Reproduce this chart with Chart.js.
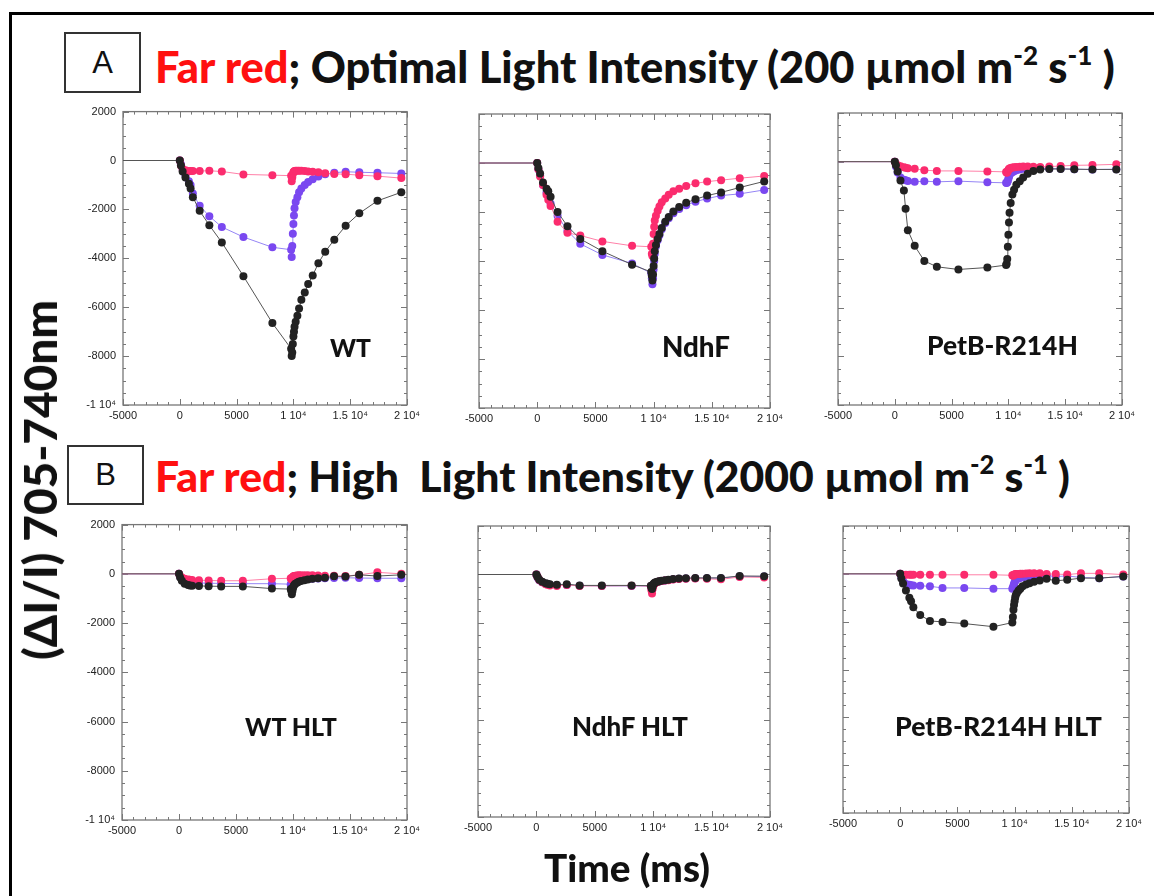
<!DOCTYPE html>
<html>
<head>
<meta charset="utf-8">
<script src="https://cdn.jsdelivr.net/npm/chart.js@4.4.1/dist/chart.umd.min.js"></script>
<style>
  body { margin: 0; background: #fff; }
  #page { position: relative; width: 1154px; height: 896px; overflow: hidden; font-family: Lato, "Noto Sans", sans-serif; }
  .frame { position: absolute; left: 9px; top: 12px; width: 1170px; height: 900px; border-top: 3px solid #000; border-left: 3px solid #000; }
  canvas { position: absolute; }
  .txt { position: absolute; white-space: nowrap; font-weight: 900; line-height: 1; color: #111; }
  .box { position: absolute; border: 2px solid #333; box-sizing: border-box; font-family: "Liberation Sans", Arial, sans-serif; font-size: 31px; text-align: center; color: #111; }
  .red { color: #ff1010; }
  sup { font-size: 0.6em; vertical-align: 0.7em; line-height: 0; }
</style>
</head>
<body>
<div id="page">
  <div class="frame"></div>
  <div class="box" style="left:64px;top:32px;width:77px;height:61px;line-height:57px;">A</div>
  <div class="box" style="left:67px;top:445px;width:77px;height:60px;line-height:56px;">B</div>
</div>
<script>
// time axis shared by all six panels (ms)
const timeMs = [-5000, 0, 100, 250, 500, 800, 950, 1150, 1750, 2600, 3700, 5600, 8150, 9800, 9850, 9900, 9950, 10000,
  10050, 10100, 10200, 10350, 10500, 10700, 11000, 11300, 11700, 12200, 12800, 13600, 14600, 15800, 17400, 19500];

const xTickLabels = ["-5000", "0", "5000", "1 10\u2074", "1.5 10\u2074", "2 10\u2074"];
const yTickLabels = ["-1 10\u2074", "-8000", "-6000", "-4000", "-2000", "0", "2000"];

// A - optimal light
const wtBlack = [0, 0, -200, -450, -700, -950, -1150, -1500, -2060, -2650, -3350, -4730, -6650, -7700, -8000, -7850, -7500, -7200,
  -7000, -6800, -6600, -6350, -6050, -5700, -5400, -5050, -4700, -4200, -3730, -3240, -2670, -2160, -1650, -1300];
const wtPurple = [0, 0, -150, -350, -600, -850, -1000, -1350, -1850, -2280, -2720, -3130, -3550, -3650, -3950, -3500, -3000, -2600,
  -2250, -1950, -1700, -1500, -1300, -1150, -1000, -880, -770, -650, -560, -500, -460, -480, -500, -530];
const wtPink = [0, 0, -200, -350, -400, -430, -430, -430, -430, -420, -450, -570, -600, -620, -850, -700, -550, -480,
  -450, -430, -420, -420, -420, -420, -430, -450, -460, -480, -520, -550, -560, -600, -640, -720];

const ndhfBlack = [0, 0, -200, -430, -800, -1050, -1150, -1380, -2000, -2580, -3100, -3600, -4150, -4450, -4600, -4800, -4550, -4200,
  -3900, -3600, -3350, -3100, -2900, -2650, -2400, -2200, -1980, -1800, -1620, -1480, -1330, -1200, -1000, -750];
const ndhfPurple = [0, 0, -250, -500, -900, -1200, -1300, -1650, -2150, -2770, -3300, -3750, -4100, -4500, -4700, -4950, -4700, -4350,
  -4000, -3700, -3400, -3150, -2950, -2700, -2450, -2250, -2050, -1880, -1720, -1580, -1450, -1330, -1260, -1100];
const ndhfPink = [0, 0, -250, -550, -900, -1300, -1500, -1750, -2400, -2850, -2960, -3200, -3380, -3420, -3700, -3800, -3300, -2900,
  -2600, -2350, -2150, -1950, -1780, -1600, -1450, -1300, -1150, -1050, -940, -830, -760, -700, -620, -530];

const petbBlack = [0, 0, -150, -400, -770, -1180, -1930, -2820, -3460, -4080, -4320, -4430, -4350, -4250, -4200, -4000, -3500, -3000,
  -2500, -2100, -1700, -1350, -1150, -950, -800, -650, -500, -380, -320, -300, -300, -310, -320, -320];
const petbPurple = [0, 0, -200, -450, -650, -740, -760, -790, -830, -800, -830, -800, -850, -870, -880, -850, -780, -700,
  -620, -550, -480, -430, -390, -350, -320, -290, -270, -260, -270, -290, -290, -310, -320, -310];
const petbPink = [0, 0, -120, -150, -190, -230, -250, -270, -290, -350, -380, -380, -400, -420, -460, -430, -380, -340,
  -300, -280, -260, -240, -230, -220, -210, -200, -200, -210, -220, -200, -180, -150, -140, -110];

// B - high light
const wtHltBlack = [0, 0, -150, -280, -400, -450, -470, -480, -490, -500, -510, -510, -600, -620, -700, -830, -700, -580,
  -500, -450, -400, -360, -320, -290, -260, -230, -200, -180, -160, -100, -110, -40, -90, -40];
const wtHltPurple = [0, 0, -120, -220, -300, -340, -350, -360, -370, -380, -390, -400, -400, -420, -480, -450, -400, -350,
  -320, -300, -280, -260, -240, -230, -220, -210, -200, -190, -180, -170, -160, -170, -180, -180];
const wtHltPink = [0, 0, -100, -150, -200, -230, -240, -250, -260, -270, -280, -280, -200, -180, -220, -200, -150, -120,
  -100, -90, -80, -70, -60, -60, -60, -60, -60, -70, -80, -80, -90, -40, 60, 0];

const ndhfHltBlack = [0, 0, -100, -220, -300, -360, -380, -400, -420, -400, -450, -450, -450, -460, -550, -600, -500, -420,
  -380, -350, -320, -300, -280, -260, -240, -220, -190, -170, -150, -140, -140, -140, -60, -70];
const ndhfHltPurple = [0, 0, -120, -240, -320, -380, -400, -420, -440, -430, -460, -470, -470, -480, -560, -620, -520, -440,
  -400, -370, -340, -310, -290, -270, -250, -230, -200, -180, -160, -150, -150, -150, -80, -80];
const ndhfHltPink = [0, 0, -100, -230, -320, -400, -420, -450, -470, -430, -470, -470, -460, -480, -650, -780, -600, -480,
  -420, -380, -340, -310, -290, -270, -250, -240, -210, -190, -180, -170, -180, -200, -100, -120];

const petbHltBlack = [0, 0, -200, -400, -700, -1000, -1150, -1400, -1720, -1970, -2010, -2080, -2210, -2040, -1800, -1500, -1300, -1150,
  -1000, -900, -800, -700, -620, -520, -450, -390, -330, -280, -210, -290, -250, -180, -180, -110];
const petbHltPurple = [0, 0, -150, -300, -420, -460, -480, -490, -500, -520, -590, -590, -620, -620, -580, -500, -420, -350,
  -300, -260, -220, -190, -160, -140, -120, -100, -80, -70, -70, -110, -90, -150, -180, -110];
const petbHltPink = [0, 0, -30, -60, -40, -40, -40, -40, -40, -40, -40, -40, -40, -60, -80, -60, -40, -30,
  -20, -20, -10, -10, 0, 0, 10, 20, 20, 20, -10, -10, -30, 20, 20, -30];

// plot-area rectangles [left, top, right, bottom] and whether y labels show
const panels = [
  { rect: [123, 110, 407, 405], yLabels: true,  black: wtBlack, purple: wtPurple, pink: wtPink },
  { rect: [479, 114, 770, 408], yLabels: false, black: ndhfBlack, purple: ndhfPurple, pink: ndhfPink },
  { rect: [838, 113, 1122, 405], yLabels: false, black: petbBlack, purple: petbPurple, pink: petbPink },
  { rect: [122, 523, 407, 820], yLabels: true,  black: wtHltBlack, purple: wtHltPurple, pink: wtHltPink },
  { rect: [478, 526, 770, 817], yLabels: false, black: ndhfHltBlack, purple: ndhfHltPurple, pink: ndhfHltPink },
  { rect: [843, 526, 1129, 813], yLabels: false, black: petbHltBlack, purple: petbHltPurple, pink: petbHltPink }
];

const padL = 65, padR = 25, padT = 12, padB = 30;

// box around the plot with inward ticks on all sides
const frameTicks = {
  id: "frameTicks",
  beforeDatasetsDraw(chart) {
    const ctx = chart.ctx, a = chart.chartArea, x = chart.scales.x, y = chart.scales.y;
    ctx.save();
    ctx.strokeStyle = "#777";
    ctx.lineWidth = 1.3;
    ctx.strokeRect(a.left, a.top, a.right - a.left, a.bottom - a.top);
    ctx.lineWidth = 1;
    ctx.beginPath();
    for (let v = x.min; v <= x.max; v += 1000) {
      const px = Math.round(x.getPixelForValue(v)) + 0.5;
      const len = v % 5000 === 0 ? 6 : 3;
      ctx.moveTo(px, a.bottom); ctx.lineTo(px, a.bottom - len);
      ctx.moveTo(px, a.top); ctx.lineTo(px, a.top + len);
    }
    for (let v = y.min; v <= y.max; v += 500) {
      const py = Math.round(y.getPixelForValue(v)) + 0.5;
      const len = v % 2000 === 0 ? 6 : 3;
      ctx.moveTo(a.left, py); ctx.lineTo(a.left + len, py);
      ctx.moveTo(a.right, py); ctx.lineTo(a.right - len, py);
    }
    ctx.stroke();
    ctx.restore();
  }
};

function series(vals, color, lineColor) {
  return {
    data: timeMs.map((t, i) => ({ x: t, y: vals[i] })),
    borderColor: lineColor,
    borderWidth: 1,
    backgroundColor: color,
    pointBackgroundColor: color,
    pointBorderWidth: 0,
    pointRadius: c => (c.dataIndex === 0 ? 0 : 4),
    tension: 0
  };
}

const page = document.getElementById("page");

panels.forEach(function (p) {
  const [l, t, r, b] = p.rect;
  const cv = document.createElement("canvas");
  const w = r - l + padL + padR, h = b - t + padT + padB;
  cv.width = w; cv.height = h;
  cv.style.left = (l - padL) + "px";
  cv.style.top = (t - padT) + "px";
  cv.style.width = w + "px"; cv.style.height = h + "px";
  page.appendChild(cv);

  new Chart(cv.getContext("2d"), {
    type: "line",
    data: {
      datasets: [
        series(p.black, "#222222", "#555555"),
        series(p.pink, "#fb2c6e", "#ff80a8"),
        series(p.purple, "#7a48f0", "#9585f5")
      ]
    },
    options: {
      responsive: false,
      animation: false,
      devicePixelRatio: 1,
      layout: { padding: { top: padT, right: padR, left: 0, bottom: 0 } },
      plugins: { legend: { display: false }, tooltip: { enabled: false } },
      scales: {
        x: {
          type: "linear", min: -5000, max: 20000,
          grid: { display: false, drawTicks: false }, border: { display: false },
          ticks: {
            stepSize: 5000, autoSkip: false, maxRotation: 0, padding: 4,
            color: "#222", font: { family: "Liberation Sans", size: 11 },
            callback: (v, i) => xTickLabels[i]
          },
          afterFit: s => { s.height = padB; }
        },
        y: {
          min: -10000, max: 2000,
          grid: { display: false, drawTicks: false }, border: { display: false },
          ticks: {
            display: p.yLabels, stepSize: 2000, padding: 7,
            color: "#222", font: { family: "Liberation Sans", size: 11 },
            callback: (v, i) => yTickLabels[i]
          },
          afterFit: s => { s.width = padL; }
        }
      }
    },
    plugins: [frameTicks]
  });
});

// text overlays: fitted to a width, placed by cap top
function addText(html, opt) {
  const el = document.createElement("div");
  el.className = "txt";
  el.innerHTML = html;
  el.style.fontSize = "40px";
  page.appendChild(el);
  const fs = 40 * opt.width / el.getBoundingClientRect().width;
  el.style.fontSize = fs + "px";
  if (opt.rotate) {
    const bw = el.offsetWidth, bh = el.offsetHeight;
    el.style.left = (opt.cx - bw / 2) + "px";
    el.style.top = (opt.cy - bh / 2) + "px";
    el.style.transform = "rotate(-90deg)";
  } else {
    const left = opt.cx !== undefined ? opt.cx - opt.width / 2 : opt.left;
    el.style.left = left + "px";
    el.style.top = (opt.capTop - 0.17 * fs) + "px";
  }
  return el;
}

addText('<span class="red">Far red</span>; Optimal Light Intensity (200 \u00b5mol m<sup>-2</sup> s<sup>-1</sup> )', { left: 155, capTop: 52, width: 960 });
addText('<span class="red">Far red</span>; High&nbsp; Light Intensity (2000 \u00b5mol m<sup>-2</sup> s<sup>-1</sup> )', { left: 155, capTop: 462, width: 915 });

addText("WT", { left: 330, capTop: 340, width: 41 });
addText("NdhF", { left: 662, capTop: 338, width: 68 });
addText("PetB-R214H", { left: 927, capTop: 336, width: 151 });
addText("WT HLT", { left: 245, capTop: 718, width: 92 });
addText("NdhF HLT", { left: 572, capTop: 718, width: 116 });
addText("PetB-R214H HLT", { left: 895, capTop: 718, width: 207 });

addText("(\u0394I/I) 705-740nm", { rotate: true, cx: 40, cy: 480, width: 360 });
addText("Time (ms)", { cx: 627, capTop: 855, width: 166 });
</script>
</body>
</html>
